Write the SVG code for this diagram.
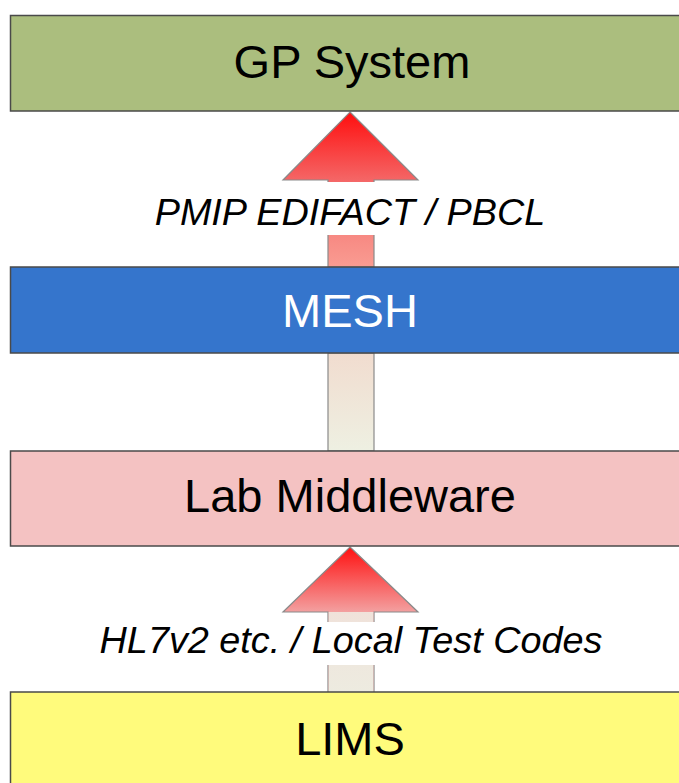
<svg xmlns="http://www.w3.org/2000/svg" width="679" height="783" viewBox="0 0 679 783">
<style>
.box{stroke:#4a4a4a;stroke-width:1.5}
.t{font-family:"Liberation Sans",Arial,sans-serif;font-size:47px;text-anchor:middle;fill:#000}
.lbl{font-family:"Liberation Sans",Arial,sans-serif;font-size:37.8px;font-style:italic;text-anchor:middle;fill:#000}
.arr{stroke:#8a8a8a;stroke-width:1.2}
</style>
<defs>
<linearGradient id="gTop" x1="0" y1="112" x2="0" y2="267" gradientUnits="userSpaceOnUse">
<stop offset="0" stop-color="#ff0e0e"/>
<stop offset="0.45" stop-color="#f46868"/>
<stop offset="1" stop-color="#f99c92"/>
</linearGradient>
<linearGradient id="gMid" x1="0" y1="353" x2="0" y2="451" gradientUnits="userSpaceOnUse">
<stop offset="0" stop-color="#f1dccf"/>
<stop offset="1" stop-color="#eef0e2"/>
</linearGradient>
<linearGradient id="gBotHead" x1="0" y1="547" x2="0" y2="612" gradientUnits="userSpaceOnUse">
<stop offset="0" stop-color="#ff1010"/>
<stop offset="1" stop-color="#f3a0a0"/>
</linearGradient>
<linearGradient id="gBotShaft" x1="0" y1="612" x2="0" y2="692" gradientUnits="userSpaceOnUse">
<stop offset="0" stop-color="#f0e2da"/>
<stop offset="1" stop-color="#edebe0"/>
</linearGradient>
</defs>
<rect width="679" height="783" fill="#fff"/>
<g id="connectors">
<path class="arr" d="M350,112 L418,180 L374,180 L374,267 L328,267 L328,180 L283,180 Z" fill="url(#gTop)"/>
<rect class="arr" x="328" y="353" width="46" height="98" fill="url(#gMid)"/>
<path class="arr" d="M350,547 L418,612 L374,612 L374,692 L328,692 L328,612 L283,612 Z" fill="url(#gBotHead)"/>
<rect x="328.6" y="612" width="44.8" height="80" fill="url(#gBotShaft)"/>
<rect x="145" y="182" width="410" height="53" fill="#fff"/>
<text class="lbl" x="350" y="225">PMIP EDIFACT / PBCL</text>
<rect x="92" y="622" width="518" height="43" fill="#fff"/>
<text class="lbl" x="351" y="653">HL7v2 etc. / Local Test Codes</text>
</g>
<g id="gp">
<rect class="box" x="10.5" y="15.5" width="690" height="95.5" fill="#abbe7e"/>
<text class="t" x="352" y="78">GP System</text>
</g>
<g id="mesh">
<rect class="box" x="10.5" y="267" width="690" height="86" fill="#3575cc" stroke="#1e3d6e"/>
<text class="t" x="350" y="327" style="fill:#fff">MESH</text>
</g>
<g id="lab">
<rect class="box" x="10.5" y="451" width="690" height="95" fill="#f4c2c2"/>
<text class="t" x="350" y="512">Lab Middleware</text>
</g>
<g id="lims">
<rect class="box" x="10.5" y="692" width="690" height="120" fill="#fffb7c"/>
<text class="t" x="350" y="755">LIMS</text>
</g>
</svg>
